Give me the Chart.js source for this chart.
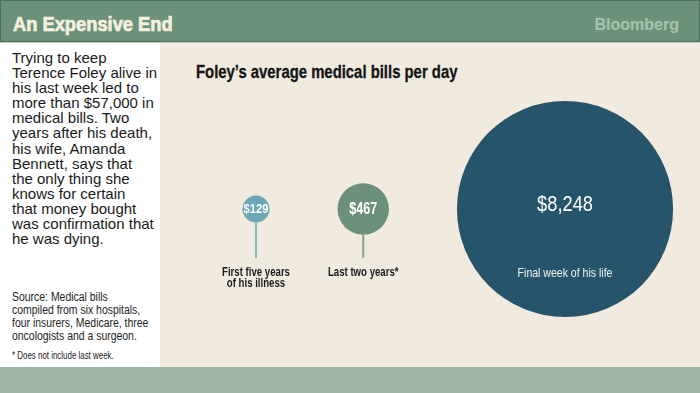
<!DOCTYPE html>
<html><head><meta charset="utf-8">
<script src="https://cdn.jsdelivr.net/npm/chart.js@4/dist/chart.umd.min.js"></script>
<style>
html,body{margin:0;padding:0;width:700px;height:393px;overflow:hidden;background:#f0eadf;position:relative;}
body{font-family:'Liberation Sans',Arial,sans-serif;}
.n{transform-origin:0 0;white-space:nowrap;position:absolute;}
#header{position:absolute;left:0;top:0;width:698px;height:40px;background:#6b9279;border:1px solid #4e6d58;}
#htitle{left:13px;top:14px;font-size:20px;font-weight:bold;line-height:20px;color:#f4f0df;transform:scaleX(0.915);-webkit-text-stroke:0.7px #f4f0df;}
#brand{position:absolute;right:21px;top:17px;font-size:16px;font-weight:bold;line-height:16px;color:#a9c5ad;}
#hline{position:absolute;left:0;top:42px;width:700px;height:1px;background:#c9cbc6;}
#left{position:absolute;left:0;top:43px;width:160px;height:324px;background:#ffffff;}
#para{position:absolute;left:12px;top:50px;font-size:15px;line-height:15.1px;color:#1a1a1a;white-space:nowrap;}
#source{left:12px;top:291px;font-size:12px;line-height:13.1px;color:#222;transform:scaleX(0.87);}
#note{left:12px;top:349px;font-size:11px;line-height:13px;color:#222;transform:scaleX(0.72);}
#ctitle{left:196px;top:63px;font-size:18px;font-weight:bold;line-height:18px;color:#151515;transform:scaleX(0.826);-webkit-text-stroke:0.3px #151515;}
#band{position:absolute;left:0;top:367px;width:700px;height:26px;background:#9fb5a5;}
#wrap{position:absolute;left:160px;top:43px;width:540px;height:324px;}
</style></head>
<body>
<div id="header"></div>
<div id="htitle" class="n">An Expensive End</div>
<div id="brand">Bloomberg</div>
<div id="hline"></div>
<div id="left"></div>
<div id="para">Trying to keep<br>Terence Foley alive in<br>his last week led to<br>more than $57,000 in<br>medical bills. Two<br>years after his death,<br>his wife, Amanda<br>Bennett, says that<br>the only thing she<br>knows for certain<br>that money bought<br>was confirmation that<br>he was dying.</div>
<div id="source" class="n">Source: Medical bills<br>compiled from six hospitals,<br>four insurers, Medicare, three<br>oncologists and a surgeon.</div>
<div id="note" class="n">* Does not include last week.</div>
<div id="ctitle" class="n">Foley’s average medical bills per day</div>
<div id="band"></div>
<div id="wrap"><canvas id="c" width="540" height="324"></canvas></div>
<script>
// ---- data ----
const categories = [['First five years', 'of his illness'], ['Last two years*'], ['Final week of his life']];
const values = [129, 467, 8248];

// ---- styling / layout constants ----
const colors = ['#6ba8b7', '#6b917a', '#26546b'];
const stemColors = ['#8db7bf', '#86a48f', '#26546b'];
const valueFonts = [['bold 13.5px', 0.83], ['bold 16px', 0.79], ['22px', 0.83]];
const FAMILY = "'Liberation Sans',Arial,sans-serif";
const K = 1.19;          // px of radius per sqrt(dollar)
const GAP = 68;          // px gap between bubble edges
const START = 96;        // px centre of first bubble
const rad = v => K * Math.sqrt(v);
const fmt = v => '$' + v.toLocaleString('en-US');

// packed x positions derived from the radii
const xs = [];
values.forEach((v, i) => {
  if (i === 0) xs.push(START);
  else xs.push(xs[i - 1] + rad(values[i - 1]) + GAP + rad(v));
});

function narrowText(ctx, text, x, y, font, sx) {
  ctx.save();
  ctx.font = font + ' ' + FAMILY;
  ctx.translate(x, y);
  ctx.scale(sx, 1);
  ctx.fillText(text, 0, 0);
  ctx.restore();
}

const labelPlugin = {
  id: 'bubbleLabels',
  afterDatasetsDraw(chart) {
    const ctx = chart.ctx;
    const meta = chart.getDatasetMeta(0);
    const labelY = chart.scales.y.getPixelForValue(0) + 64;
    ctx.save();
    ctx.textAlign = 'center';
    ctx.textBaseline = 'middle';
    meta.data.forEach((el, i) => {
      const x = el.x, y = el.y, r = el.options.radius;
      const inside = r > 60;
      ctx.fillStyle = '#ffffff';
      narrowText(ctx, fmt(values[i]), x, inside ? y - 4 : y + 0.5, valueFonts[i][0], valueFonts[i][1]);
      let font, sx;
      if (!inside) {
        ctx.strokeStyle = stemColors[i];
        ctx.lineWidth = 2;
        ctx.beginPath();
        ctx.moveTo(x, y + r);
        ctx.lineTo(x, labelY - 15);
        ctx.stroke();
        ctx.fillStyle = '#1c1c1c';
        font = 'bold 12.5px'; sx = 0.77;
      } else {
        ctx.fillStyle = '#f2f2ee';
        font = '13px'; sx = 0.81;
      }
      categories[i].forEach((line, j) => narrowText(ctx, line, x, labelY + j * 11, font, sx));
    });
    ctx.restore();
  }
};

new Chart(document.getElementById('c'), {
  type: 'bubble',
  data: {
    datasets: [{
      data: values.map((v, i) => ({ x: xs[i], y: 0, r: rad(v) })),
      backgroundColor: colors,
      hoverBackgroundColor: colors,
      borderWidth: 0,
      hoverBorderWidth: 0,
      hoverRadius: 0,
      clip: false
    }]
  },
  options: {
    responsive: false,
    animation: false,
    events: [],
    layout: { padding: 0, autoPadding: false },
    scales: {
      x: { type: 'linear', display: false, min: 0, max: 540 },
      y: { type: 'linear', display: false, min: -158, max: 166 }
    },
    plugins: { legend: { display: false }, tooltip: { enabled: false }, title: { display: false } }
  },
  plugins: [labelPlugin]
});
</script>
</body></html>
